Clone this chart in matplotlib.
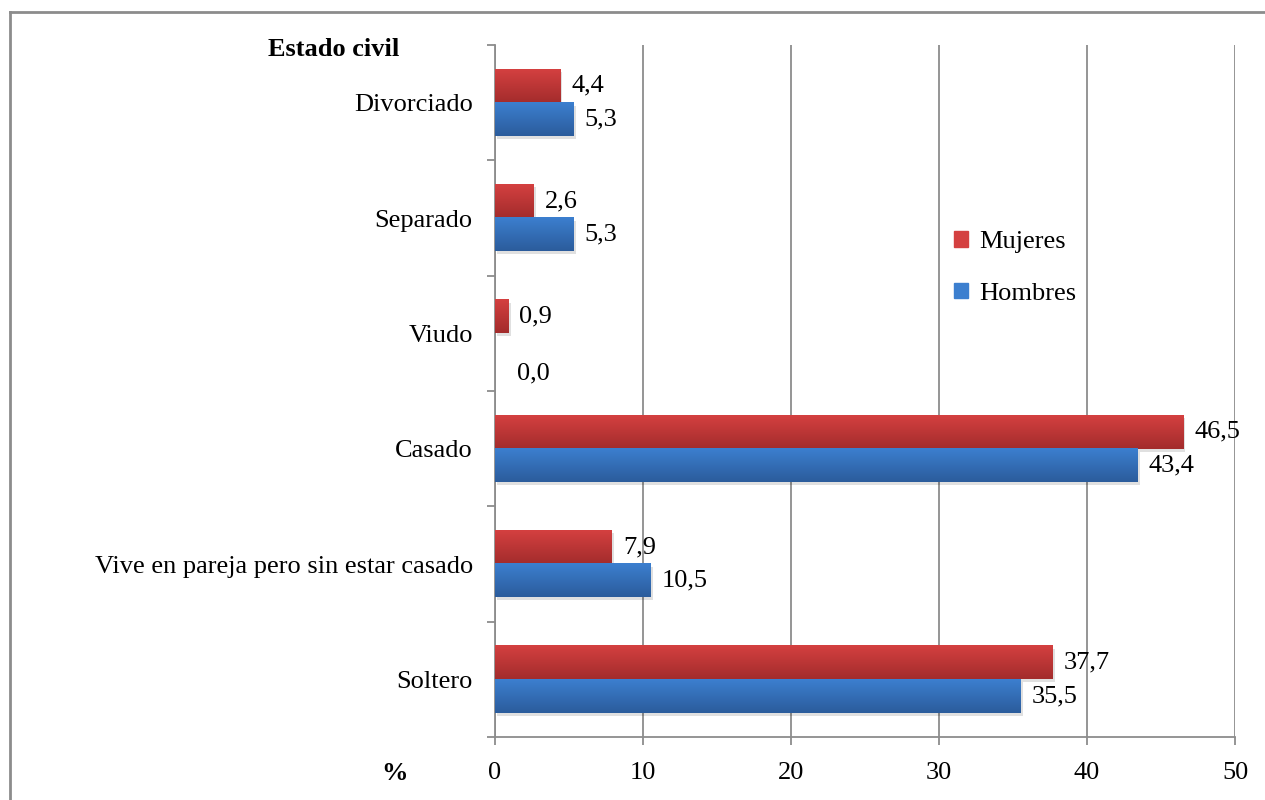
import numpy as np
import matplotlib.pyplot as plt
from matplotlib.colors import LinearSegmentedColormap
from matplotlib.lines import Line2D

categories = ["Soltero", "Vive en pareja pero sin estar casado", "Casado",
              "Viudo", "Separado", "Divorciado"]
mujeres = [37.7, 7.9, 46.5, 0.9, 2.6, 4.4]
hombres = [35.5, 10.5, 43.4, 0.0, 5.3, 5.3]
xticks = [0, 10, 20, 30, 40, 50]

plt.rcParams["font.family"] = ["Liberation Serif", "DejaVu Serif"]

fig = plt.figure(figsize=(12.65, 8), dpi=100)
ax = fig.add_axes([495 / 1265, 1 - 737 / 800, 740 / 1265, 692 / 800])

y = np.arange(len(categories))
h = 0.29
red = ("#d44040", "#a32c2c")
blue = ("#3c7fcf", "#2b5c9c")

def gradient_bars(bars, colors):
    cmap = LinearSegmentedColormap.from_list("g", [colors[1], colors[0]])
    grad = np.linspace(0, 1, 64).reshape(-1, 1)
    for b in bars:
        b.set_facecolor("none")
        b.set_edgecolor("none")
        x0, y0, w, hh = b.get_x(), b.get_y(), b.get_width(), b.get_height()
        if w <= 0:
            continue
        # soft shadow
        ax.add_patch(plt.Rectangle((x0 + 0.15, y0 - 0.025), w, hh,
                                   color="#000000", alpha=0.12, lw=0, zorder=2))
        ax.imshow(grad, cmap=cmap, aspect="auto", origin="lower",
                  extent=(x0, x0 + w, y0, y0 + hh), zorder=3)

bm = ax.barh(y + h / 2, mujeres, height=h)
bh = ax.barh(y - h / 2, hombres, height=h)
gradient_bars(bm, red)
gradient_bars(bh, blue)

for vals, off in ((mujeres, h / 2), (hombres, -h / 2)):
    for yi, v in zip(y, vals):
        # empty bars get their label pushed a bit further out
        dx, dy = (16, -17) if v == 0 else (8, 0)
        ax.annotate(f"{v:.1f}".replace(".", ","), (v, yi + off),
                    xytext=(dx, dy), textcoords="offset points",
                    va="center", ha="left", fontsize=19, zorder=5)

ax.set_xlim(0, 50)
ax.set_ylim(-0.5, len(categories) - 0.5)
ax.set_xticks(xticks)
ax.set_xticklabels([str(t) for t in xticks], fontsize=19)
ax.set_yticks(y)
ax.set_yticklabels(categories, fontsize=19)
ax.set_yticks(np.arange(-0.5, len(categories)), minor=True)
ax.tick_params(axis="y", which="major", length=0, pad=16)
ax.tick_params(axis="y", which="minor", length=6, color="#8c8c8c", width=1.3)
ax.tick_params(axis="x", length=6, color="#8c8c8c", width=1.3, pad=12)
ax.grid(axis="x", color="#8c8c8c", lw=1.3, zorder=1)
ax.set_axisbelow(True)
for s in ("top", "right"):
    ax.spines[s].set_visible(False)
for s in ("left", "bottom"):
    ax.spines[s].set_color("#8c8c8c")
    ax.spines[s].set_linewidth(1.3)

fig.text(268 / 1265, 1 - 50 / 800, "Estado civil", fontsize=19,
         fontweight="bold", va="center", ha="left")
fig.text(395 / 1265, 1 - 773 / 800, "%", fontsize=19,
         fontweight="bold", va="center", ha="center")

handles = [plt.Rectangle((0, 0), 1, 1, color=red[0]),
           plt.Rectangle((0, 0), 1, 1, color=blue[0])]
fig.legend(handles, ["Mujeres", "Hombres"], loc="center left",
           bbox_to_anchor=(930 / 1265, 1 - 268 / 800), frameon=False,
           fontsize=19, handlelength=0.55, handleheight=0.55,
           handletextpad=0.4, labelspacing=1.1)

# figure frame (left and top edges only visible)
fig.add_artist(Line2D([10 / 1265, 10 / 1265], [0, 1 - 12 / 800],
                      transform=fig.transFigure, color="#8c8c8c", lw=2))
fig.add_artist(Line2D([10 / 1265, 1], [1 - 12 / 800, 1 - 12 / 800],
                      transform=fig.transFigure, color="#8c8c8c", lw=2))

fig.savefig("out.png", dpi=100)
